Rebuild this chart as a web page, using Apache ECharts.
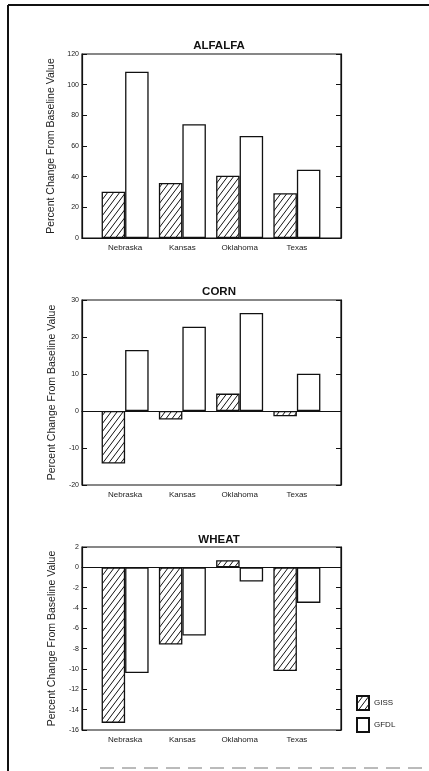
<!DOCTYPE html>
<html>
<head>
<meta charset="utf-8">
<script src="https://cdn.jsdelivr.net/npm/echarts@6/dist/echarts.min.js"></script>
<style>
html,body{margin:0;padding:0;background:#fff;}
#chart{width:429px;height:771px;}
</style>
</head>
<body>
<div id="chart"></div>
<script>
// ---- data ----
const states = ['Nebraska', 'Kansas', 'Oklahoma', 'Texas'];
const seriesNames = ['GISS', 'GFDL'];
const crops = ['ALFALFA', 'CORN', 'WHEAT'];
const alfalfaGISS = [30.2, 35.9, 40.6, 29.2];
const alfalfaGFDL = [108.5, 74.2, 66.5, 44.5];
const cornGISS = [-14.2, -2.3, 4.7, -1.4];
const cornGFDL = [16.5, 22.8, 26.5, 10.1];
const wheatGISS = [-15.3, -7.6, 0.7, -10.2];
const wheatGFDL = [-10.4, -6.7, -1.4, -3.5];
const alfalfaTicks = { min: 0, max: 120, interval: 20 };
const cornTicks = { min: -20, max: 30, interval: 10 };
const wheatTicks = { min: -16, max: 2, interval: 2 };
const yAxisTitle = 'Percent Change From Baseline Value';

// ---- layout ----
const FONT = '"Liberation Sans", Arial, Helvetica, sans-serif';
const panels = [
  { title: crops[0], giss: alfalfaGISS, gfdl: alfalfaGFDL, ticks: alfalfaTicks, top: 54, height: 184, titleTop: 35 },
  { title: crops[1], giss: cornGISS, gfdl: cornGFDL, ticks: cornTicks, top: 300, height: 185, titleTop: 281 },
  { title: crops[2], giss: wheatGISS, gfdl: wheatGFDL, ticks: wheatTicks, top: 547, height: 183, titleTop: 529 }
];
const outerLeft = 82, outerWidth = 259;
const innerLeft = 96.5, innerWidth = 229;

function hatchCanvas() {
  const c = document.createElement('canvas');
  c.width = 6; c.height = 8;
  const g = c.getContext('2d');
  g.fillStyle = '#fff';
  g.fillRect(0, 0, 6, 8);
  g.strokeStyle = '#111';
  g.lineWidth = 1;
  g.beginPath();
  g.moveTo(0, 8); g.lineTo(6, 0);
  g.moveTo(-6, 8); g.lineTo(0, 0);
  g.moveTo(6, 8); g.lineTo(12, 0);
  g.stroke();
  return c;
}
const hatch = { image: hatchCanvas(), repeat: 'repeat' };

const grid = [], xAxis = [], yAxis = [], series = [], title = [];
panels.forEach((p, i) => {
  grid.push({ left: outerLeft, width: outerWidth, top: p.top, height: p.height,
    show: true, borderColor: '#111', borderWidth: 1.2, backgroundColor: 'transparent' });
  grid.push({ left: innerLeft, width: innerWidth, top: p.top, height: p.height });
  const og = 2 * i, ig = 2 * i + 1;
  const yl = yAxis.length;
  xAxis.push({ gridIndex: og, type: 'value', min: 0, max: 1,
    axisLine: { show: true, onZero: true, onZeroAxisIndex: yl, lineStyle: { color: '#111', width: 1.2 } },
    axisTick: { show: false }, axisLabel: { show: false }, splitLine: { show: false } });
  xAxis.push({ gridIndex: ig, type: 'category', data: states,
    axisLine: { show: false }, axisTick: { show: false },
    axisLabel: { color: '#222', fontSize: 8, fontFamily: FONT, margin: 6 },
    splitLine: { show: false } });
  yAxis.push({ gridIndex: og, type: 'value', position: 'left', min: p.ticks.min, max: p.ticks.max, interval: p.ticks.interval,
    name: yAxisTitle, nameLocation: 'middle', nameGap: 21,
    nameTextStyle: { fontSize: 10.5, color: '#222', fontFamily: FONT },
    axisLine: { show: true, onZero: false, lineStyle: { color: '#111', width: 1.2 } },
    axisTick: { show: true, inside: true, length: 5, lineStyle: { color: '#111' } },
    axisLabel: { color: '#222', fontSize: 7, fontFamily: FONT, margin: 3 },
    splitLine: { show: false } });
  yAxis.push({ gridIndex: og, type: 'value', position: 'right', min: p.ticks.min, max: p.ticks.max, interval: p.ticks.interval,
    axisLine: { show: true, onZero: false, lineStyle: { color: '#111', width: 1.2 } },
    axisTick: { show: true, inside: true, length: 5, lineStyle: { color: '#111' } },
    axisLabel: { show: false }, splitLine: { show: false } });
  yAxis.push({ gridIndex: ig, type: 'value', min: p.ticks.min, max: p.ticks.max, interval: p.ticks.interval, show: false });
  series.push({ name: seriesNames[0], type: 'bar', xAxisIndex: 2 * i + 1, yAxisIndex: yl + 2,
    data: p.giss, barWidth: 23.5, barGap: '0%',
    itemStyle: { color: hatch, borderColor: '#111', borderWidth: 1.3 }, silent: true });
  series.push({ name: seriesNames[1], type: 'bar', xAxisIndex: 2 * i + 1, yAxisIndex: yl + 2,
    data: p.gfdl, barWidth: 23.5, barGap: '0%',
    itemStyle: { color: '#fff', borderColor: '#111', borderWidth: 1.3 }, silent: true });
  title.push({ text: p.title, left: 214, top: p.titleTop, textAlign: 'center',
    textStyle: { fontSize: 11.5, fontWeight: 'bold', color: '#111', fontFamily: FONT } });
});

const chart = echarts.init(document.getElementById('chart'), null, { renderer: 'canvas' });
chart.setOption({
  animation: false,
  backgroundColor: '#fff',
  title: title,
  grid: grid,
  xAxis: xAxis,
  yAxis: yAxis,
  series: series,
  legend: {
    data: seriesNames, orient: 'vertical', left: 351, top: 690,
    itemWidth: 12, itemHeight: 14, itemGap: 6, icon: 'rect',
    textStyle: { fontSize: 8, color: '#222', fontFamily: FONT },
    selectedMode: false
  },
  graphic: [
    { type: 'line', shape: { x1: 8, y1: 5, x2: 429, y2: 5 }, style: { stroke: '#111', lineWidth: 2 } },
    { type: 'line', shape: { x1: 8, y1: 5, x2: 8, y2: 771 }, style: { stroke: '#111', lineWidth: 2 } },
    { type: 'line', shape: { x1: 100, y1: 768, x2: 429, y2: 768 }, style: { stroke: '#777', lineWidth: 1, lineDash: [14, 8] } }
  ]
});
</script>
</body>
</html>
